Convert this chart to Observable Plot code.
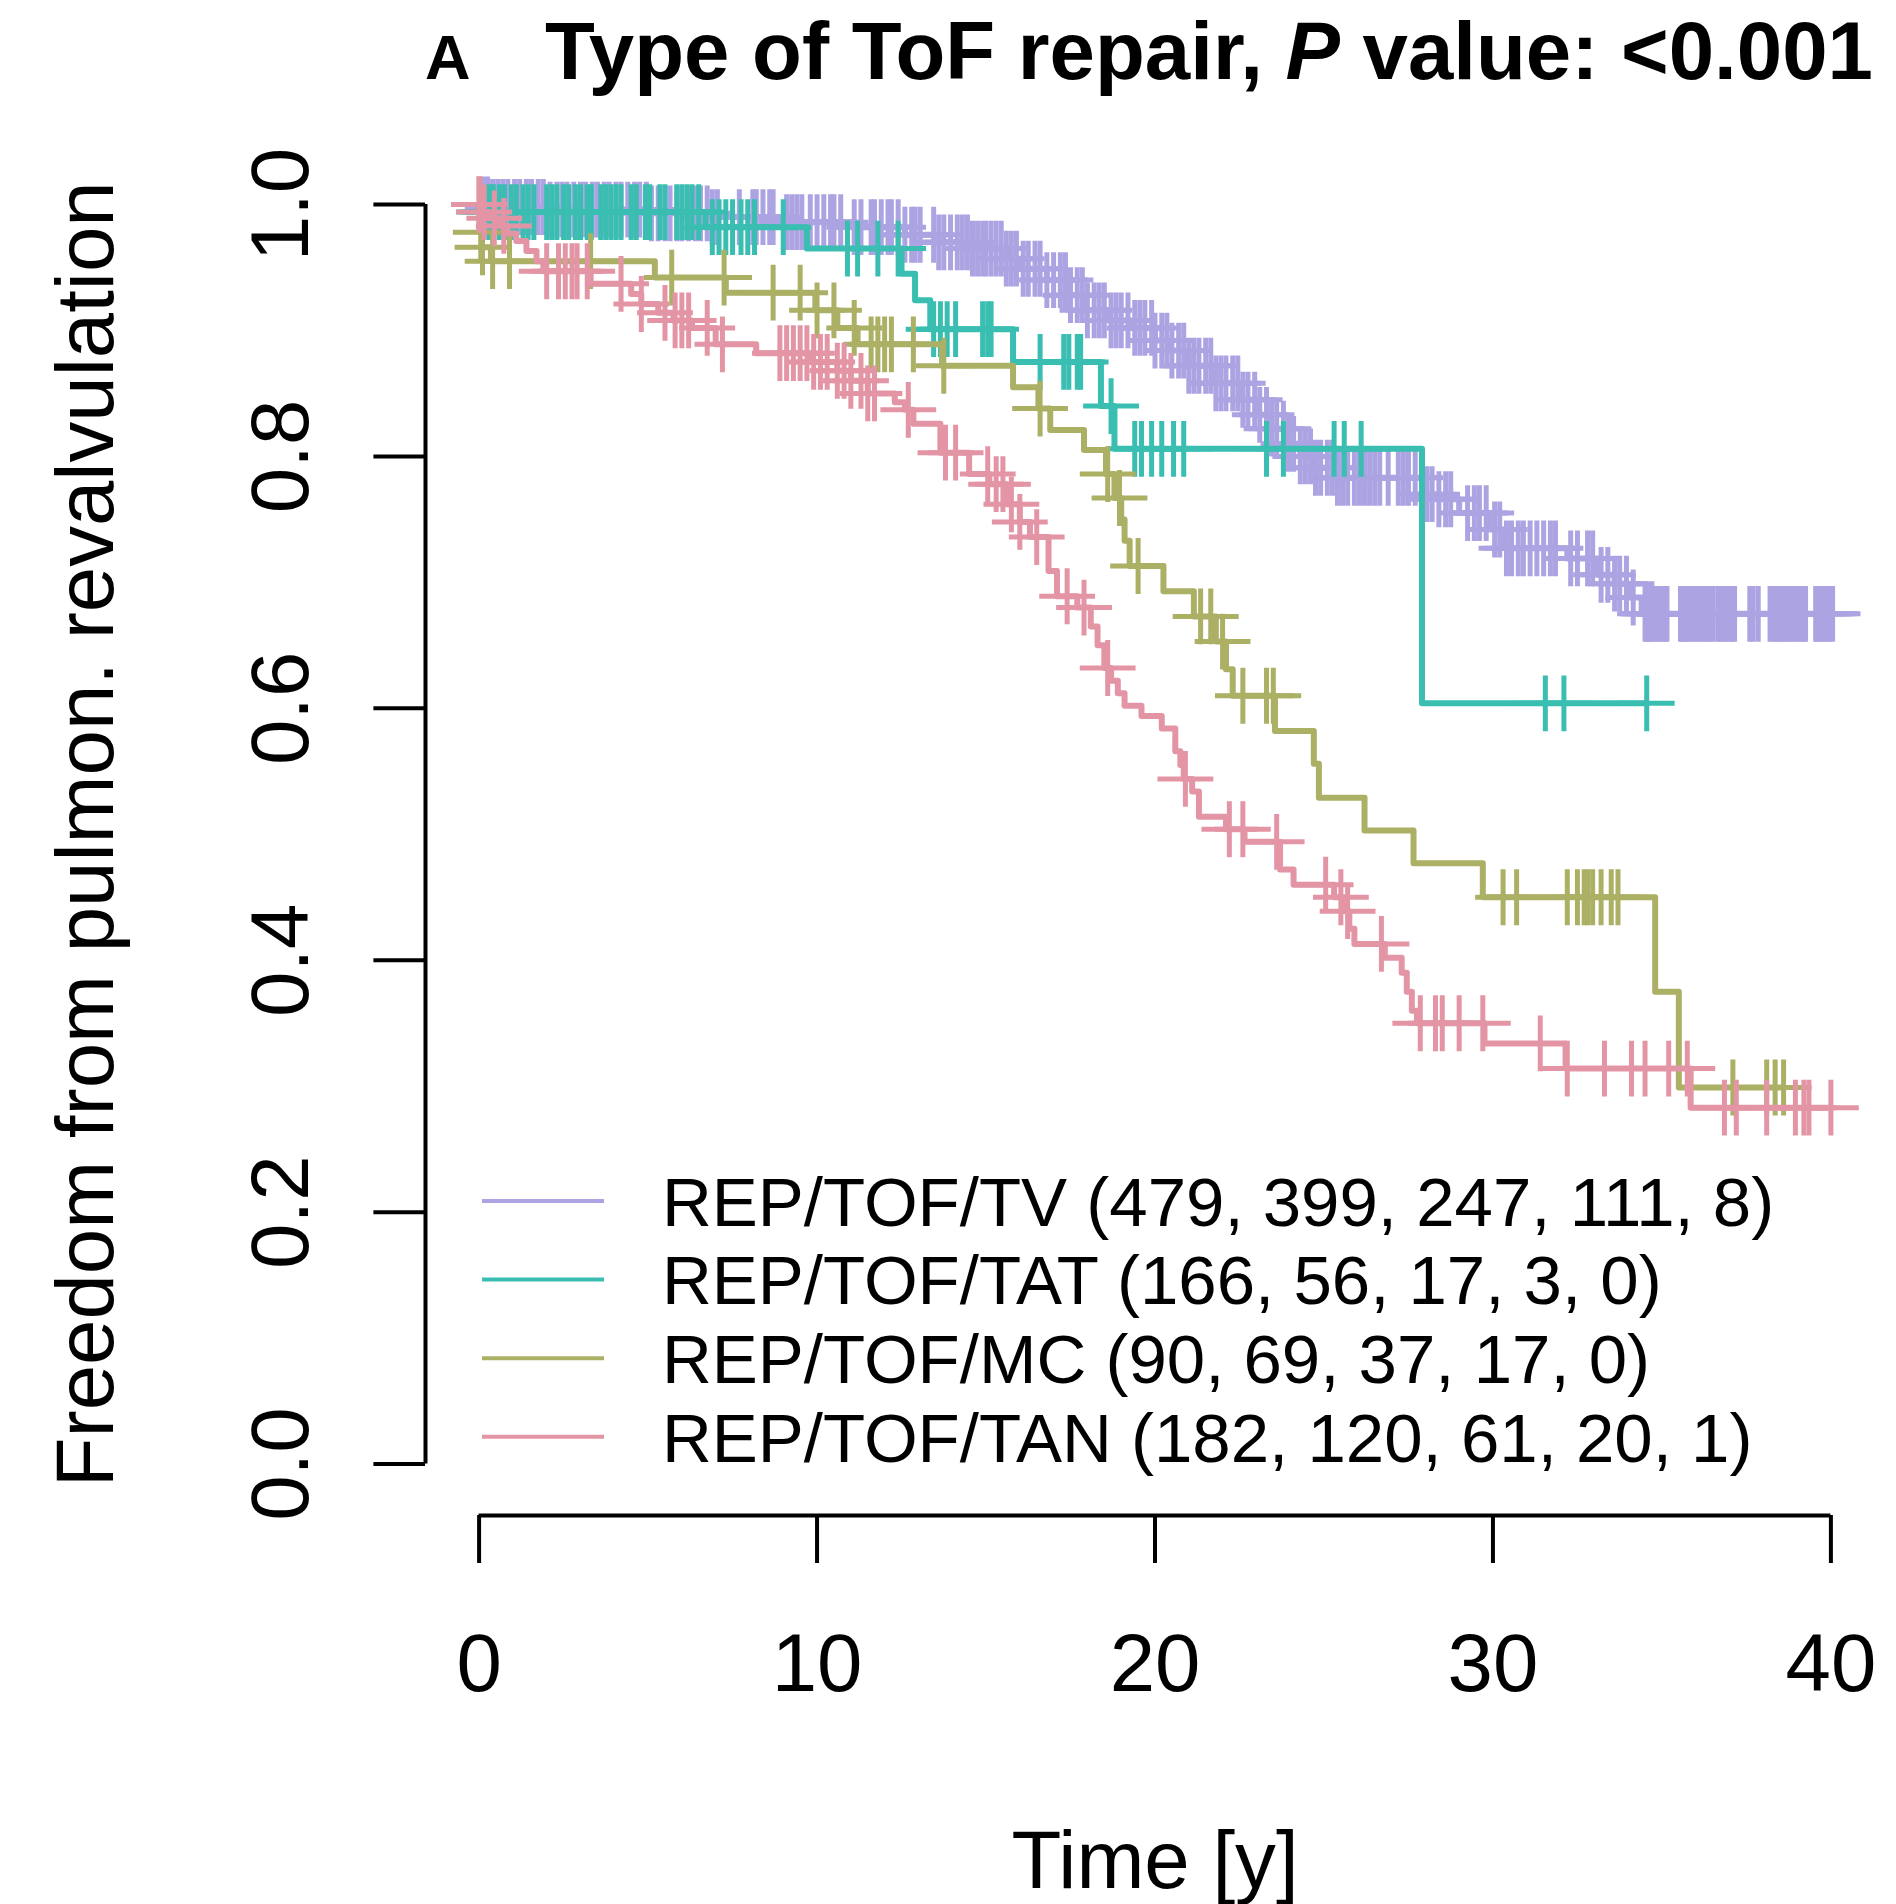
<!DOCTYPE html>
<html>
<head>
<meta charset="utf-8">
<script src="https://cdn.jsdelivr.net/npm/d3@7"></script>
<script src="https://cdn.jsdelivr.net/npm/@observablehq/plot@0.6"></script>
<style>
  body { margin: 0; background: #ffffff; }
  #chart { width: 1896px; font-family: "Liberation Sans", Arial, Helvetica, sans-serif; }
  #chart svg { display: block; }
</style>
</head>
<body>
<div id="chart"></div>
<script>
// Kaplan–Meier curves: freedom from pulmonary revalvulation by type of ToF repair

const groups = ["REP/TOF/TV", "REP/TOF/TAT", "REP/TOF/MC", "REP/TOF/TAN"];
const groupColors = ["#ACA4E2", "#39BEB1", "#ABB065", "#E495A5"];

// numbers at risk at 0, 10, 20, 30, 40 years
const atRiskTV  = [479, 399, 247, 111, 8];
const atRiskTAT = [166, 56, 17, 3, 0];
const atRiskMC  = [90, 69, 37, 17, 0];
const atRiskTAN = [182, 120, 61, 20, 1];

const xTicks = [0, 10, 20, 30, 40];
const yTicks = [0, 0.2, 0.4, 0.6, 0.8, 1.0];

const titleTag = "A";
const titleText = ["Type of ToF repair, ", "P", " value: <0.001"];
const xLabel = "Time [y]";
const yLabel = "Freedom from pulmon. revalvulation";

// survival steps: [time (y), survival after the event]
const stepsTV = [[0,1.0],[0.3,0.998],[2.0,0.996],[5.0,0.993],[6.8,0.990],[9.0,0.986],[11.0,0.982],
  [12.6,0.976],[13.5,0.970],[14.5,0.965],[15.6,0.957],[16.0,0.949],[16.8,0.940],[17.4,0.928],
  [17.9,0.916],[18.6,0.908],[19.3,0.902],[20.0,0.892],[20.4,0.884],[21.0,0.872],[21.8,0.858],
  [22.5,0.845],[23.0,0.833],[23.4,0.822],[23.9,0.810],[24.3,0.800],[24.7,0.791],[25.3,0.783],
  [27.95,0.770],[28.3,0.766],[29.0,0.755],[29.9,0.742],[30.35,0.727],[32.2,0.719],[33.1,0.706],
  [33.6,0.699],[34.0,0.688],[34.4,0.675]];

const stepsTAT = [[0,1.0],[0.1,0.994],[6.7,0.982],[9.7,0.965],[12.5,0.945],[12.9,0.924],[13.35,0.901],
  [15.8,0.875],[18.4,0.840],[18.8,0.806],[27.9,0.604]];

const stepsMC = [[0,1.0],[0.02,0.978],[0.08,0.966],[0.35,0.955],[5.2,0.942],[7.3,0.930],[9.95,0.916],
  [10.6,0.902],[11.2,0.889],[13.7,0.872],[15.8,0.855],[16.55,0.838],[16.9,0.821],[17.9,0.805],
  [18.55,0.786],[18.8,0.767],[19.0,0.750],[19.1,0.733],[19.25,0.713],[20.25,0.693],[21.15,0.673],
  [21.8,0.653],[22.1,0.631],[22.3,0.610],[23.55,0.582],[24.7,0.556],[24.85,0.529],[26.2,0.503],
  [27.65,0.477],[29.7,0.450],[34.8,0.375],[35.5,0.299]];

const stepsTAN = [[0,1.0],[0.05,0.994],[0.3,0.989],[0.6,0.983],[0.84,0.977],[1.1,0.971],[1.4,0.963],
  [1.7,0.955],[1.9,0.947],[3.3,0.937],[4.5,0.929],[4.8,0.921],[5.3,0.914],[5.75,0.908],[6.3,0.902],
  [7.0,0.889],[8.2,0.882],[9.8,0.875],[10.6,0.868],[11.0,0.860],[11.5,0.850],[12.3,0.843],
  [12.6,0.837],[12.85,0.826],[13.65,0.803],[14.5,0.786],[15.1,0.778],[15.6,0.762],[16.0,0.748],
  [16.3,0.736],[16.85,0.709],[17.1,0.689],[17.7,0.680],[18.1,0.665],[18.3,0.650],[18.5,0.632],
  [18.7,0.622],[18.9,0.612],[19.1,0.602],[19.6,0.594],[20.2,0.584],[20.6,0.566],[20.75,0.555],
  [20.85,0.544],[21.1,0.534],[21.3,0.514],[22.1,0.504],[22.65,0.494],[23.7,0.472],[24.1,0.460],
  [25.3,0.450],[25.6,0.439],[25.75,0.425],[25.9,0.413],[26.8,0.402],[27.3,0.390],[27.45,0.375],
  [27.6,0.360],[27.75,0.350],[29.75,0.334],[32.15,0.314],[35.85,0.283]];

// censoring times (y)
const censTV = [0.1,0.25,0.4,0.55,0.7,0.85,1.05,1.2,1.4,1.55,1.75,1.9,2.1,2.3,2.45,2.6,2.8,3.0,3.15,
  3.35,3.5,3.7,3.85,4.05,4.2,4.4,4.6,4.75,4.95,5.1,5.3,5.5,5.65,5.85,6.0,6.2,6.4,6.55,
  6.75,6.9,7.05,7.7,8.1,8.2,8.4,8.6,8.7,9.1,9.25,9.4,9.55,9.8,10.0,10.2,10.4,10.5,10.7,11.1,11.3,
  11.6,11.7,11.9,12.1,12.2,12.4,12.6,12.8,12.9,13.05,13.45,13.6,13.75,13.95,14.15,
  14.3,14.45,14.6,14.75,14.9,15.0,15.15,15.3,15.45,15.6,15.75,15.9,16.1,16.25,16.45,16.6,16.8,
  17.0,17.2,17.35,17.5,17.7,17.85,18.0,18.2,18.35,18.5,18.7,18.85,19.0,19.2,19.4,19.55,19.7,19.9,
  20.0,20.2,20.35,20.5,20.7,20.85,21.0,21.15,21.3,21.5,21.65,21.8,21.95,22.1,22.3,22.45,22.6,
  22.75,22.95,23.1,23.3,23.45,23.6,23.8,23.95,24.1,24.3,24.45,24.6,24.75,24.9,25.1,25.25,25.4,
  25.55,25.7,25.9,26.05,26.2,26.35,26.5,26.65,26.9,27.2,27.35,27.5,27.7,
  28.05,28.2,28.4,28.6,28.75,29.25,29.45,29.6,29.8,30.05,30.2,30.4,30.55,30.75,30.9,31.1,31.3,
  31.5,31.7,31.85,32.3,32.5,32.8,32.95,33.2,33.4,33.6,33.75,33.95,34.15,34.5,34.58,34.65,34.72,
  34.8,34.9,35.0,35.08,35.15,35.55,35.62,35.65,35.72,35.8,35.9,36.0,36.1,36.2,36.3,36.4,36.5,
  36.65,36.72,36.8,36.9,37.0,37.08,37.15,37.6,37.7,37.85,38.2,38.3,38.4,38.47,38.55,38.62,38.7,
  38.8,38.9,39.0,39.1,39.18,39.25,39.55,39.6,39.7,39.78,39.85,39.95,40.05];

const censTAT = [0.15,0.3,0.42,0.6,0.75,0.95,1.1,1.3,1.45,1.62,2.0,2.15,2.3,2.5,2.65,2.85,3.0,3.2,3.32,
  3.6,3.75,3.9,4.05,4.2,4.5,4.65,4.92,5.05,5.35,5.5,5.85,6.0,6.15,6.3,6.5,
  6.9,7.1,7.3,7.5,7.75,7.95,8.15,9.0,10.9,11.2,11.8,12.4,13.45,13.65,13.85,14.1,14.9,15.05,15.15,
  16.6,17.3,17.45,17.7,17.8,18.7,19.4,19.6,19.9,20.2,20.55,20.85,23.3,23.8,25.3,25.6,26.1,
  31.55,32.1,34.55];

const censMC = [0,0.05,0.1,0.4,0.9,3.3,5.7,7.25,8.7,9.5,10.0,10.5,11.1,11.6,11.8,12.0,12.2,12.85,13.75,
  16.6,18.6,18.95,19.5,21.35,21.65,22.0,22.6,23.3,23.5,30.3,30.7,32.2,32.5,32.7,32.8,32.95,33.2,
  33.5,33.7,37.1,38.1,38.35,38.6];

const censTAN = [0,0.02,0.15,0.45,0.73,2.0,2.35,2.55,2.75,2.9,3.2,4.2,4.8,5.5,5.8,6.0,6.2,6.75,7.2,
  8.9,9.1,9.3,9.5,9.7,9.9,10.1,10.3,10.6,10.8,11.0,11.3,11.5,11.7,12.7,13.8,14.1,15.05,15.3,15.5,
  15.75,16.0,16.5,17.4,17.9,18.6,20.9,22.2,22.6,23.6,25.05,25.5,25.7,26.7,27.85,28.3,28.5,29.0,
  29.7,31.4,32.2,33.3,34.1,34.5,35.2,35.75,36.85,37.2,38.1,38.95,39.2,39.35,40.0];

const allSteps = [stepsTV, stepsTAT, stepsMC, stepsTAN];
const allCens = [censTV, censTAT, censMC, censTAN];
const allAtRisk = [atRiskTV, atRiskTAT, atRiskMC, atRiskTAN];

const FONT = '"Liberation Sans", Arial, Helvetica, sans-serif';

// survival value in effect at time t
function survivalAt(steps, t) {
  let s = steps[0][1];
  for (const [ti, si] of steps) if (ti <= t) s = si;
  return s;
}

const series = groups.map((g, i) => {
  const steps = allSteps[i];
  const cens = allCens[i];
  const last = steps[steps.length - 1];
  const end = Math.max(d3.max(cens), last[0]);
  const path = steps.map(([t, s]) => ({group: g, t, s}));
  path.push({group: g, t: end, s: last[1]});
  const marks = cens.map(t => ({group: g, t, s: survivalAt(steps, t)}));
  return {path, marks};
});

const chart = document.getElementById("chart");

// title
const titleSvg = d3.create("svg").attr("width", 1896).attr("height", 120)
  .style("font-family", FONT);
titleSvg.append("text").attr("x", 425).attr("y", 79)
  .attr("font-size", 63).attr("font-weight", "bold").text(titleTag);
const tt = titleSvg.append("text").attr("x", 545).attr("y", 79)
  .attr("font-size", 81.6).attr("font-weight", "bold");
tt.append("tspan").text(titleText[0]);
tt.append("tspan").attr("font-style", "italic").text(titleText[1]);
tt.append("tspan").text(titleText[2]);
chart.appendChild(titleSvg.node());

const plot = Plot.plot({
  width: 1896,
  height: 1784,
  marginLeft: 478.6,
  marginRight: 65.6,
  marginTop: 84,
  marginBottom: 440.4,
  x: {domain: [0, 40]},
  y: {domain: [0, 1]},
  color: {domain: groups, range: groupColors},
  style: {fontFamily: FONT, fontSize: "81.6px", color: "black", background: "white", overflow: "visible"},
  marks: [
    // detached R-style axes
    Plot.ruleX([xTicks[0]], {y1: yTicks[0], y2: yTicks[yTicks.length - 1], dx: -53.6, strokeWidth: 4}),
    Plot.axisY({ticks: yTicks, tickSize: 51.6, dx: -53.6, tickRotate: -90, tickPadding: 66.4,
      tickFormat: d3.format(".1f"), strokeWidth: 4, label: null, fontSize: 81.6}),
    Plot.ruleY([yTicks[0]], {x1: xTicks[0], x2: xTicks[xTicks.length - 1], dy: 51.4, strokeWidth: 4}),
    Plot.axisX({ticks: xTicks, tickSize: 48, dy: 51.4, tickPadding: 70, tickFormat: d3.format("d"),
      strokeWidth: 4, label: null, fontSize: 81.6}),
    Plot.text([yLabel], {text: d => d, frameAnchor: "left", textAnchor: "middle", lineAnchor: "middle",
      rotate: -90, dx: -392.6, fontSize: 81.6}),
    Plot.text([xLabel], {text: d => d, frameAnchor: "bottom", textAnchor: "middle", dy: 424,
      lineAnchor: "bottom", fontSize: 81.6}),
    // survival curves with censoring marks, one group at a time
    ...series.flatMap(({path, marks}) => [
      Plot.line(path, {x: "t", y: "s", stroke: "group", curve: "step-after", strokeWidth: 6}),
      Plot.dot(marks, {x: "t", y: "s", stroke: "group", fill: "none", symbol: "plus", r: 18, strokeWidth: 5})
    ])
  ]
});
chart.appendChild(plot);

// legend inside the plotting area
const leg = d3.select(plot).append("g")
  .attr("font-family", FONT).attr("font-size", 69).attr("text-anchor", "start");
groups.forEach((g, i) => {
  const cy = 1081 + i * 78.6;
  leg.append("line").attr("x1", 482).attr("x2", 604).attr("y1", cy).attr("y2", cy)
    .attr("stroke", groupColors[i]).attr("stroke-width", 4);
  leg.append("text").attr("x", 662).attr("y", cy + 24.8).attr("fill", "black")
    .attr("text-anchor", "start")
    .text(`${g} (${allAtRisk[i].join(", ")})`);
});
</script>
</body>
</html>
